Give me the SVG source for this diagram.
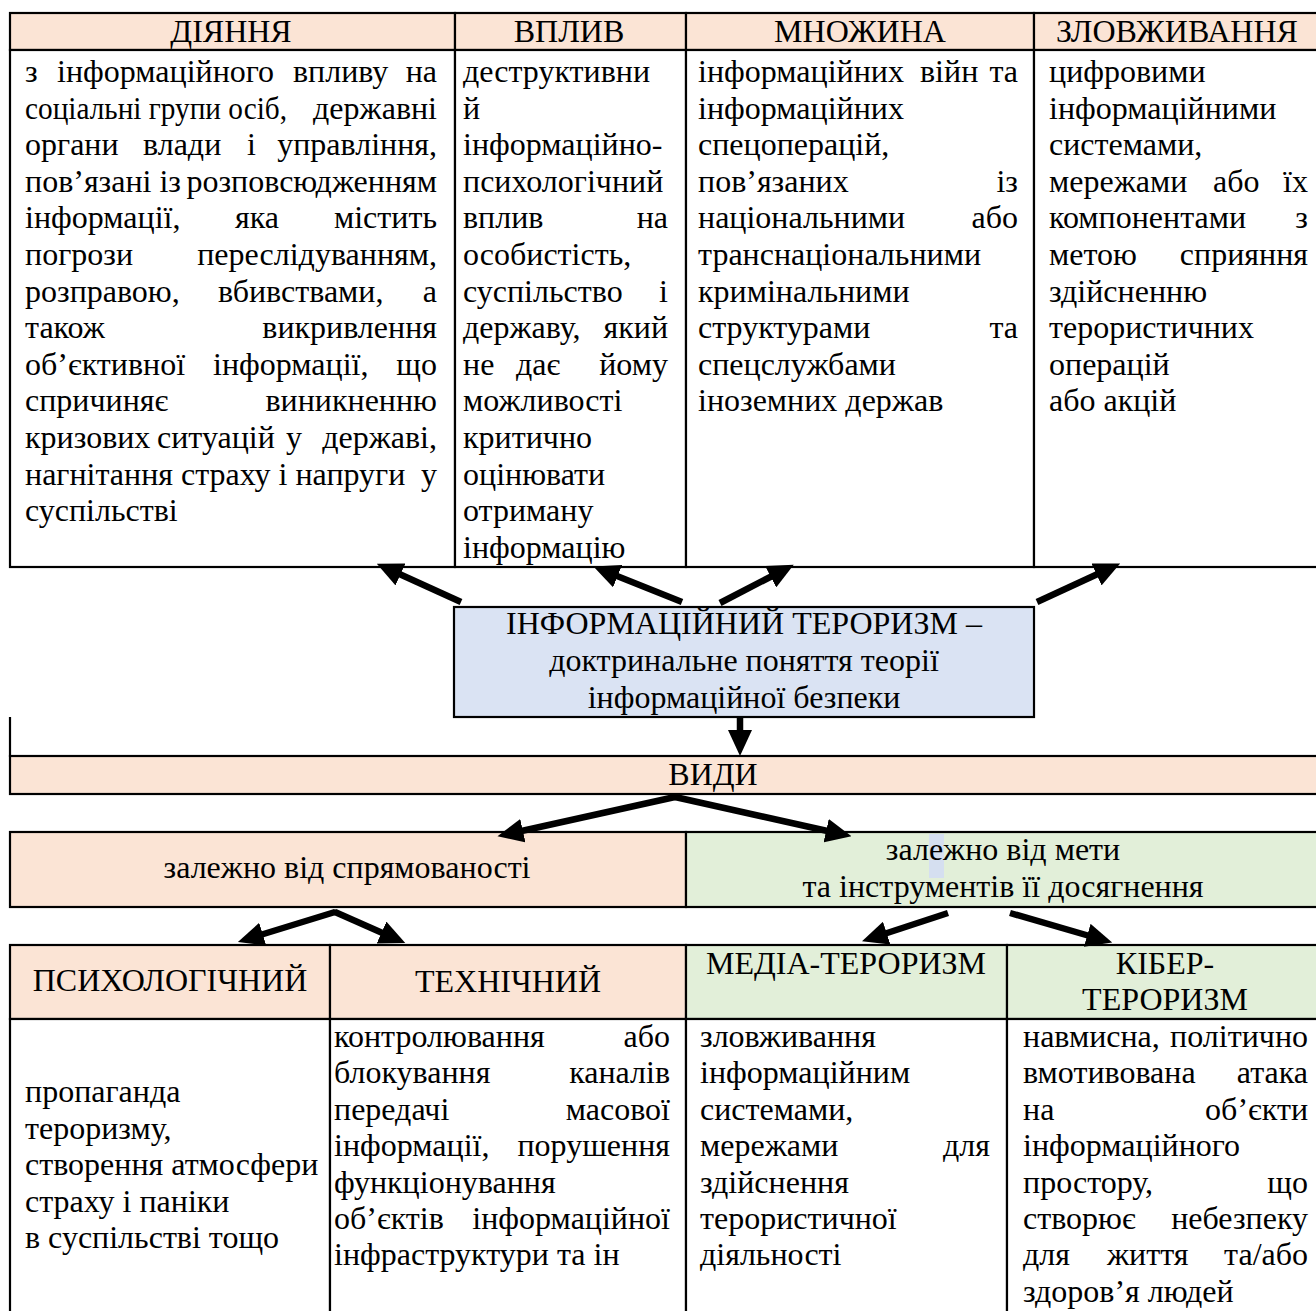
<svg xmlns="http://www.w3.org/2000/svg" width="1316" height="1311" viewBox="0 0 1316 1311">
<style>
text{font-family:"Liberation Serif","Times New Roman",serif;font-size:32px;fill:#000}
.e{text-anchor:end}
.c{text-anchor:middle}
.pe{fill:#FBE4D5;stroke:#000;stroke-width:2.2}
.gr{fill:#E2EFD9;stroke:#000;stroke-width:2.2}
.bl{fill:#DAE3F3;stroke:#000;stroke-width:2.2}
.wh{fill:#fff;stroke:#000;stroke-width:2.2}
.ln{stroke:#000;stroke-width:2.2;fill:none}
.ar{stroke:#000;stroke-width:6.5;fill:none;marker-end:url(#ah)}
</style>
<defs>
<marker id="ah" markerUnits="userSpaceOnUse" viewBox="0 0 26 24" markerWidth="26" markerHeight="24" refX="6" refY="12" orient="auto"><path d="M0,0 L26,12 L0,24 z" fill="#000"/></marker>
</defs>
<rect width="1316" height="1311" fill="#fff"/>

<!-- TOP TABLE -->
<g id="col-diyannya">
<rect class="pe" x="10" y="13" width="445" height="37"/>
<rect class="wh" x="10" y="50" width="445" height="517"/>
<text class="c" x="231" y="42">ДІЯННЯ</text>
<text x="25" y="82">з<tspan x="57">інформаційного</tspan><tspan x="293">впливу</tspan></text><text class="e" x="437" y="82">на</text>
<text x="25" y="118.6" textLength="262" lengthAdjust="spacingAndGlyphs">соціальні групи осіб,</text><text class="e" x="437" y="118.6">державні</text>
<text x="25" y="155.2">органи<tspan x="143">влади</tspan><tspan x="247">і</tspan></text><text class="e" x="437" y="155.2">управління,</text>
<text x="25" y="191.8">пов’язані із</text><text class="e" x="437" y="191.8">розповсюдженням</text>
<text x="25" y="228.4">інформації,<tspan x="235">яка</tspan></text><text class="e" x="437" y="228.4">містить</text>
<text x="25" y="265">погрози</text><text class="e" x="437" y="265">переслідуванням,</text>
<text x="25" y="301.6">розправою,<tspan x="218">вбивствами,</tspan></text><text class="e" x="437" y="301.6">а</text>
<text x="25" y="338.2">також</text><text class="e" x="437" y="338.2">викривлення</text>
<text x="25" y="374.8">об’єктивної<tspan x="213">інформації,</tspan></text><text class="e" x="437" y="374.8">що</text>
<text x="25" y="411.4">спричиняє</text><text class="e" x="437" y="411.4">виникненню</text>
<text x="25" y="448">кризових<tspan x="157">ситуацій</tspan><tspan x="286">у</tspan></text><text class="e" x="437" y="448">державі,</text>
<text x="25" y="484.6">нагнітання страху і напруги</text><text class="e" x="437" y="484.6">у</text>
<text x="25" y="521.2">суспільстві</text>
</g>

<g id="col-vplyv">
<rect class="pe" x="455" y="13" width="231" height="37"/>
<rect class="wh" x="455" y="50" width="231" height="517"/>
<text class="c" x="569" y="42">ВПЛИВ</text>
<text x="463" y="82">деструктивни</text>
<text x="463" y="118.6">й</text>
<text x="463" y="155.2">інформаційно-</text>
<text x="463" y="191.8">психологічний</text>
<text x="463" y="228.4">вплив</text><text class="e" x="668" y="228.4">на</text>
<text x="463" y="265">особистість,</text>
<text x="463" y="301.6">суспільство</text><text class="e" x="668" y="301.6">і</text>
<text x="463" y="338.2">державу,</text><text class="e" x="668" y="338.2">який</text>
<text x="463" y="374.8">не<tspan x="516">дає</tspan></text><text class="e" x="668" y="374.8">йому</text>
<text x="463" y="411.4">можливості</text>
<text x="463" y="448">критично</text>
<text x="463" y="484.6">оцінювати</text>
<text x="463" y="521.2">отриману</text>
<text x="463" y="557.8">інформацію</text>
</g>

<g id="col-mnozhyna">
<rect class="pe" x="686" y="13" width="348" height="37"/>
<rect class="wh" x="686" y="50" width="348" height="517"/>
<text class="c" x="860" y="42">МНОЖИНА</text>
<text x="698" y="82">інформаційних<tspan x="920">війн</tspan></text><text class="e" x="1018" y="82">та</text>
<text x="698" y="118.6">інформаційних</text>
<text x="698" y="155.2">спецоперацій,</text>
<text x="698" y="191.8">пов’язаних</text><text class="e" x="1018" y="191.8">із</text>
<text x="698" y="228.4">національними</text><text class="e" x="1018" y="228.4">або</text>
<text x="698" y="265">транснаціональними</text>
<text x="698" y="301.6">кримінальними</text>
<text x="698" y="338.2">структурами</text><text class="e" x="1018" y="338.2">та</text>
<text x="698" y="374.8">спецслужбами</text>
<text x="698" y="411.4">іноземних держав</text>
</g>

<g id="col-zlovzhyvannia">
<rect class="pe" x="1034" y="13" width="300" height="37"/>
<rect class="wh" x="1034" y="50" width="300" height="517"/>
<text class="c" x="1177" y="42">ЗЛОВЖИВАННЯ</text>
<text x="1049" y="82">цифровими</text>
<text x="1049" y="118.6">інформаційними</text>
<text x="1049" y="155.2">системами,</text>
<text x="1049" y="191.8">мережами<tspan x="1213">або</tspan></text><text class="e" x="1308" y="191.8">їх</text>
<text x="1049" y="228.4">компонентами</text><text class="e" x="1308" y="228.4">з</text>
<text x="1049" y="265">метою</text><text class="e" x="1308" y="265">сприяння</text>
<text x="1049" y="301.6">здійсненню</text>
<text x="1049" y="338.2">терористичних</text>
<text x="1049" y="374.8">операцій</text>
<text x="1049" y="411.4">або акцій</text>
</g>

<!-- CENTER -->
<g id="info-terrorism">
<rect class="bl" x="454" y="607" width="580" height="110"/>
<text class="c" x="744" y="634">ІНФОРМАЦІЙНИЙ ТЕРОРИЗМ –</text>
<text class="c" x="744" y="671">доктринальне поняття теорії</text>
<text class="c" x="744" y="708">інформаційної безпеки</text>
</g>

<g id="vydy">
<line class="ln" x1="10" y1="717" x2="10" y2="757"/>
<rect class="pe" x="10" y="756" width="1320" height="38"/>
<text class="c" x="713" y="785">ВИДИ</text>
</g>

<g id="by-direction">
<rect class="pe" x="10" y="832" width="676" height="75"/>
<text class="c" x="347" y="878">залежно від спрямованості</text>
</g>

<g id="by-goal">
<rect class="gr" x="686" y="832" width="640" height="75"/>
<rect x="929" y="834" width="15" height="44" fill="#D5DFF0"/>
<text class="c" x="1003" y="860">залежно від мети</text>
<text class="c" x="1003" y="897">та інструментів її досягнення</text>
</g>

<!-- BOTTOM TABLE -->
<g id="psychological">
<rect class="pe" x="10" y="945" width="320" height="74"/>
<rect class="wh" x="10" y="1019" width="320" height="300"/>
<text class="c" x="170" y="991">ПСИХОЛОГІЧНИЙ</text>
<text x="25" y="1102">пропаганда</text>
<text x="25" y="1138.5">тероризму,</text>
<text x="25" y="1175">створення атмосфери</text>
<text x="25" y="1211.5">страху і паніки</text>
<text x="25" y="1248">в суспільстві тощо</text>
</g>

<g id="technical">
<rect class="pe" x="330" y="945" width="356" height="74"/>
<rect class="wh" x="330" y="1019" width="356" height="300"/>
<text class="c" x="508" y="992">ТЕХНІЧНИЙ</text>
<text x="334" y="1047">контролювання</text><text class="e" x="670" y="1047">або</text>
<text x="334" y="1083.4">блокування</text><text class="e" x="670" y="1083.4">каналів</text>
<text x="334" y="1119.8">передачі</text><text class="e" x="670" y="1119.8">масової</text>
<text x="334" y="1156.2">інформації,</text><text class="e" x="670" y="1156.2">порушення</text>
<text x="334" y="1192.6">функціонування</text>
<text x="334" y="1229">об’єктів</text><text class="e" x="670" y="1229">інформаційної</text>
<text x="334" y="1265.4">інфраструктури та ін</text>
</g>

<g id="media-terrorism">
<rect class="gr" x="686" y="945" width="321" height="74"/>
<rect class="wh" x="686" y="1019" width="321" height="300"/>
<text class="c" x="846" y="974">МЕДІА-ТЕРОРИЗМ</text>
<text x="700" y="1047">зловживання</text>
<text x="700" y="1083.4">інформаційним</text>
<text x="700" y="1119.8">системами,</text>
<text x="700" y="1156.2">мережами</text><text class="e" x="990" y="1156.2">для</text>
<text x="700" y="1192.6">здійснення</text>
<text x="700" y="1229">терористичної</text>
<text x="700" y="1265.4">діяльності</text>
</g>

<g id="cyber-terrorism">
<rect class="gr" x="1007" y="945" width="320" height="74"/>
<rect class="wh" x="1007" y="1019" width="320" height="300"/>
<text class="c" x="1165" y="974">КІБЕР-</text>
<text class="c" x="1165" y="1010">ТЕРОРИЗМ</text>
<text x="1023" y="1047">навмисна,</text><text class="e" x="1308" y="1047">політично</text>
<text x="1023" y="1083.4">вмотивована</text><text class="e" x="1308" y="1083.4">атака</text>
<text x="1023" y="1119.8">на</text><text class="e" x="1308" y="1119.8">об’єкти</text>
<text x="1023" y="1156.2">інформаційного</text>
<text x="1023" y="1192.6">простору,</text><text class="e" x="1308" y="1192.6">що</text>
<text x="1023" y="1229">створює</text><text class="e" x="1308" y="1229">небезпеку</text>
<text x="1023" y="1265.4">для<tspan x="1107">життя</tspan></text><text class="e" x="1308" y="1265.4">та/або</text>
<text x="1023" y="1301.8">здоров’я людей</text>
</g>

<!-- CONNECTORS -->
<g id="connectors">
<line class="ar" x1="461" y1="602" x2="395" y2="572"/>
<line class="ar" x1="682" y1="602" x2="612" y2="574"/>
<line class="ar" x1="720" y1="603" x2="776" y2="574"/>
<line class="ar" x1="1037" y1="602" x2="1102" y2="572"/>
<line class="ar" x1="740" y1="717" x2="740" y2="736"/>
<path class="ar" d="M675,797 L517,832"/>
<path class="ar" d="M675,797 L832,832"/>
<path d="M675,794 L665,800 L685,800 z" fill="#000"/>
<path class="ar" d="M335,912 L257,936"/>
<path class="ar" d="M335,912 L387,935"/>
<path d="M335,909 L326,915 L344,915 z" fill="#000"/>
<line class="ar" x1="948" y1="913" x2="881" y2="935"/>
<line class="ar" x1="1010" y1="913" x2="1093" y2="937"/>
</g>
</svg>
